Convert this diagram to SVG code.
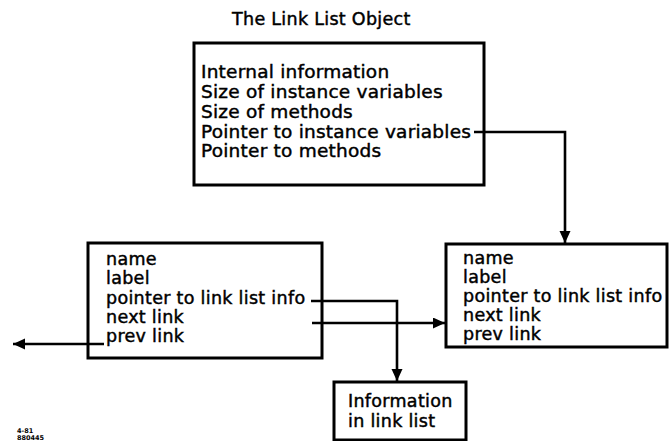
<svg xmlns="http://www.w3.org/2000/svg" width="670" height="441" viewBox="0 0 670 441">
  <style>
    .box { fill: #fff; stroke: #000; stroke-width: 3; }
    .txt { font-family: "DejaVu Sans", "Liberation Sans", sans-serif; font-size: 17.5px; letter-spacing: 0.3px; fill: #000; stroke: #000; stroke-width: 0.45; }
    .big { font-size: 18.5px; letter-spacing: 0.22px; }
    .conn { fill: none; stroke: #000; stroke-width: 2.6; }
    .tiny { font-family: "DejaVu Sans", sans-serif; font-weight: bold; font-size: 6.5px; fill: #000; }
  </style>
  <defs>
    <marker id="arrow" markerUnits="userSpaceOnUse" markerWidth="13" markerHeight="12" refX="12" refY="5.5" orient="auto">
      <path d="M0,0 L12,5.5 L0,11 z" fill="#000"/>
    </marker>
  </defs>
  <rect width="670" height="441" fill="#fff"/>

  <text class="txt" x="232" y="25" font-size="19" letter-spacing="0">The Link List Object</text>

  <g id="object-header">
    <rect class="box" x="194" y="43" width="290" height="142"/>
    <text class="txt big" x="201" y="78">Internal information</text>
    <text class="txt big" x="201" y="98">Size of instance variables</text>
    <text class="txt big" x="201" y="118">Size of methods</text>
    <text class="txt big" x="201" y="138">Pointer to instance variables</text>
    <text class="txt big" x="201" y="157">Pointer to methods</text>
  </g>

  <g id="link-left">
    <rect class="box" x="88" y="243" width="234" height="115"/>
    <text class="txt" x="106" y="265">name</text>
    <text class="txt" x="106" y="284">label</text>
    <text class="txt" x="106" y="304">pointer to link list info</text>
    <text class="txt" x="106" y="323">next link</text>
    <text class="txt" x="106" y="342">prev link</text>
  </g>

  <g id="link-right">
    <rect class="box" x="446" y="244" width="221" height="103"/>
    <text class="txt" x="463" y="264">name</text>
    <text class="txt" x="463" y="283">label</text>
    <text class="txt" x="463" y="302">pointer to link list info</text>
    <text class="txt" x="463" y="321">next link</text>
    <text class="txt" x="463" y="340">prev link</text>
  </g>

  <g id="list-info">
    <rect class="box" x="334" y="382" width="132" height="58"/>
    <text class="txt" x="348" y="407" font-size="18.5" letter-spacing="0">Information</text>
    <text class="txt" x="348" y="427" font-size="18.5" letter-spacing="0">in link list</text>
  </g>

  <g id="connectors">
    <path class="conn" d="M474,132 H565 V243" marker-end="url(#arrow)"/>
    <path class="conn" d="M311,301 H397 V381" marker-end="url(#arrow)"/>
    <path class="conn" d="M312,323 H445" marker-end="url(#arrow)"/>
    <path class="conn" d="M104,344 H13" marker-end="url(#arrow)"/>
  </g>

  <text class="tiny" x="17" y="433">4-81</text>
  <text class="tiny" x="17" y="440">880445</text>
</svg>
